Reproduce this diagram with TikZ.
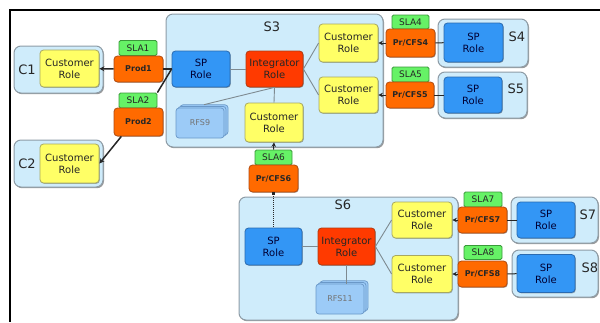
\documentclass[tikz,border=0pt]{standalone}
\usepackage{fontspec}
\setmainfont{DejaVu Sans}
\usetikzlibrary{arrows.meta,shadows}

\definecolor{svcfill}{HTML}{CFECFB}
\definecolor{svcedge}{HTML}{8E9CA6}
\definecolor{custfill}{HTML}{FFFF66}
\definecolor{custedge}{HTML}{A8A860}
\definecolor{spfill}{HTML}{3396F5}
\definecolor{spedge}{HTML}{2A6AB0}
\definecolor{intfill}{HTML}{FF3A00}
\definecolor{intedge}{HTML}{B03A10}
\definecolor{prodfill}{HTML}{FF6A00}
\definecolor{prodedge}{HTML}{B04A10}
\definecolor{slafill}{HTML}{66F266}
\definecolor{slaedge}{HTML}{3A9A3A}
\definecolor{rfsfill}{HTML}{9CCBF7}
\definecolor{rfsedge}{HTML}{6A98C8}
\definecolor{linkgray}{HTML}{7E8A90}

\begin{document}
\begin{tikzpicture}[x=1pt,y=-1pt]
    \useasboundingbox (0,0) rectangle (600,322);

    \tikzset{svcbox/.style={draw=svcedge,fill=svcfill,line width=1pt,rounded corners=7pt,
        drop shadow={shadow xshift=1pt,shadow yshift=-1.2pt,opacity=0.4,fill=black}}}
    \tikzset{svclabel/.style={font=\fontsize{13}{13}\selectfont,text=black!85}}
    \tikzset{rolebox/.style={draw,line width=0.8pt,rounded corners=3.5pt,align=center,inner sep=0pt,
        font=\fontsize{10}{12}\selectfont,text=black!85,
        drop shadow={shadow xshift=0.8pt,shadow yshift=-0.8pt,opacity=0.3,fill=black}}}
    \tikzset{custrole/.style={rolebox,draw=custedge,fill=custfill,minimum width=59pt,minimum height=37pt}}
    \tikzset{sprole/.style={rolebox,draw=spedge,fill=spfill,text=black!80!blue,minimum width=58pt,minimum height=37pt}}
    \tikzset{introle/.style={rolebox,draw=intedge,fill=intfill,minimum width=57pt,minimum height=36pt}}
    \tikzset{prodbox/.style={rolebox,draw=prodedge,fill=prodfill,minimum width=49pt,minimum height=27pt,
        font=\fontsize{8}{10}\selectfont\bfseries}}
    \tikzset{slabox/.style={draw=slaedge,fill=slafill,line width=0.8pt,rounded corners=1.5pt,inner sep=0pt,
        minimum width=38pt,minimum height=15pt,font=\fontsize{9}{9}\selectfont,text=black!85}}
    \tikzset{rfsbox/.style={draw=rfsedge,fill=rfsfill,line width=0.7pt,rounded corners=3pt,inner sep=0pt,
        font=\fontsize{8}{8}\selectfont,text=black!55,
        double copy shadow={shadow xshift=2pt,shadow yshift=1.6pt,draw=rfsedge,fill=rfsfill}}}

    % frame
    \draw[line width=2pt] (600,10) -- (10,10) -- (10,322);

    % consumers
    \node[svcbox,minimum width=89pt,minimum height=47pt] (C1box) at (58.5,69.5) {};
    \node[svclabel] (C1lbl) at (27,70) {C1};
    \node[custrole] (C1role) at (69.5,68.5) {Customer\\Role};
    \node[svcbox,minimum width=89pt,minimum height=47pt] (C2box) at (58.5,163.5) {};
    \node[svclabel] (C2lbl) at (27,164) {C2};
    \node[custrole,minimum height=39pt] (C2role) at (69.5,163.5) {Customer\\Role};

    \node[slabox] (SLA1) at (138,48) {SLA1};
    \node[prodbox,minimum height=26pt] (Prod1) at (138.5,69) {Prod1};
    \node[slabox] (SLA2) at (138,100.5) {SLA2};
    \node[prodbox,minimum height=28pt] (Prod2) at (138.5,122) {Prod2};

    % S3
    \node[svcbox,minimum width=217pt,minimum height=133pt] (S3box) at (274.5,80.5) {};
    \node[svclabel] (S3lbl) at (272,27) {S3};
    \node[sprole,minimum height=36pt] (SP3) at (201,69) {SP\\Role};
    \node[introle] (Int3) at (274.5,69) {Integrator\\Role};
    \node[custrole,minimum height=38pt] (Cust3a) at (348.5,43) {Customer\\Role};
    \node[custrole,minimum height=36pt] (Cust3b) at (348.5,95) {Customer\\Role};
    \node[custrole,minimum width=58pt,minimum height=39pt] (Cust3c) at (274,122.5) {Customer\\Role};
    \node[rfsbox,minimum width=48pt,minimum height=30pt] (RFS9) at (200,123) {RFS9};

    % S4, S5
    \node[slabox,minimum width=37pt,minimum height=14pt] (SLA4) at (410.5,22) {SLA4};
    \node[prodbox,minimum height=28pt] (PrCFS4) at (410.5,43) {Pr/CFS4};
    \node[svcbox,minimum width=90pt,minimum height=48pt] (S4box) at (483,43) {};
    \node[sprole,minimum width=59pt,minimum height=39pt] (SP4) at (473.5,42.5) {SP\\Role};
    \node[svclabel] (S4lbl) at (517,37) {S4};

    \node[slabox,minimum width=37pt] (SLA5) at (410.5,74.5) {SLA5};
    \node[prodbox,minimum width=48pt,minimum height=26pt] (PrCFS5) at (410,95) {Pr/CFS5};
    \node[svcbox,minimum width=89pt,minimum height=46pt] (S5box) at (482.5,95) {};
    \node[sprole,minimum height=36pt] (SP5) at (473,95) {SP\\Role};
    \node[svclabel] (S5lbl) at (516,89) {S5};

    % S6
    \node[slabox,minimum width=37pt] (SLA6) at (273.5,157.5) {SLA6};
    \node[prodbox] (PrCFS6) at (273.5,178.5) {Pr/CFS6};
    \node[svcbox,minimum width=219pt,minimum height=123pt] (S6box) at (348.5,258.5) {};
    \node[svclabel] (S6lbl) at (343,205) {S6};
    \node[sprole,minimum width=57pt] (SP6) at (273.5,246.5) {SP\\Role};
    \node[introle,minimum height=37pt] (Int6) at (346.5,246.5) {Integrator\\Role};
    \node[custrole,minimum width=60pt,minimum height=36pt] (Cust6a) at (422,220) {Customer\\Role};
    \node[custrole,minimum width=60pt] (Cust6b) at (422,274) {Customer\\Role};
    \node[rfsbox,minimum width=48pt,minimum height=30pt] (RFS11) at (340,299) {RFS11};

    % S7, S8
    \node[slabox] (SLA7) at (483,199.5) {SLA7};
    \node[prodbox,minimum height=26pt] (PrCFS7) at (482.5,220) {Pr/CFS7};
    \node[svcbox,minimum width=87pt,minimum height=46pt] (S7box) at (554.5,220) {};
    \node[sprole,minimum height=36pt] (SP7) at (546,220) {SP\\Role};
    \node[svclabel] (S7lbl) at (588,215) {S7};

    \node[slabox,minimum height=14pt] (SLA8) at (483,252.5) {SLA8};
    \node[prodbox,minimum height=26pt] (PrCFS8) at (482.5,274) {Pr/CFS8};
    \node[svcbox,minimum width=86pt,minimum height=47pt] (S8box) at (555,273.5) {};
    \node[sprole,minimum height=38pt] (SP8) at (546,273.5) {SP\\Role};
    \node[svclabel] (S8lbl) at (590,268) {S8};

    % consumer links
    \begin{scope}[every path/.style={line width=1.5pt,draw=black!85}]
        \draw[-{Stealth[length=5pt,width=5pt]}] (Prod1) -- (C1role);
        \draw[-{Stealth[length=5pt,width=5pt]}] (Prod2.-140) -- (C2role.east);
        \draw (Prod1) -- (SP3);
        \draw (SP3.west) -- (SLA2.north east);
    \end{scope}

    % provider links
    \begin{scope}[every path/.style={line width=1pt,draw=black!85}]
        \draw[-{Stealth[length=4.5pt,width=4.5pt]}] (PrCFS4) -- (Cust3a);
        \draw (SP4) -- (PrCFS4);
        \draw[-{Stealth[length=4.5pt,width=4.5pt]}] (PrCFS5) -- (Cust3b);
        \draw (SP5) -- (PrCFS5);
        \draw[-{Stealth[length=4.5pt,width=4.5pt]}] (SLA6.north) -- (Cust3c.south);
        \draw[{Square[length=2.5pt]}-,densely dotted] (PrCFS6.south) -- (SP6.north);
        \draw[-{Stealth[length=4.5pt,width=4.5pt]}] (PrCFS7) -- (Cust6a);
        \draw (SP7) -- (PrCFS7);
        \draw[-{Stealth[length=4.5pt,width=4.5pt]}] (PrCFS8) -- (Cust6b);
        \draw (SP8) -- (PrCFS8);
    \end{scope}

    % inner links
    \begin{scope}[every path/.style={line width=0.9pt,draw=linkgray}]
        \draw (SP3) -- (Int3);
        \draw (Int3.east) -- (Cust3a.west);
        \draw (Int3.east) -- (Cust3b.west);
        \draw (Int3.south) -- (Cust3c.north);
        \draw (Int3.south) -- ([xshift=4pt,yshift=3pt]RFS9.north);
        \draw (SP6) -- (Int6);
        \draw (Int6.east) -- (Cust6a.west);
        \draw (Int6.east) -- (Cust6b.west);
        \draw (Int6.south) -- (Int6.south |- RFS11.north);
    \end{scope}
\end{tikzpicture}
\end{document}
